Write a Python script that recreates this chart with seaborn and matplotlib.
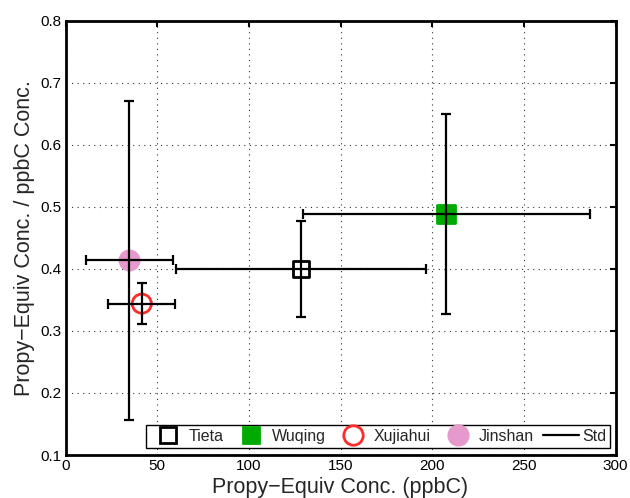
import matplotlib
matplotlib.use('Agg')
import matplotlib.pyplot as plt
from matplotlib.lines import Line2D
import seaborn as sns
import pandas as pd

SITES = ['Tieta', 'Wuqing', 'Xujiahui', 'Jinshan']
CONC = [128.5, 207.8, 41.6, 34.8]
RATIO = [0.400, 0.489, 0.344, 0.414]
CONC_STD = [68.4, 78.4, 18.3, 23.8]
RATIO_STD = [0.077, 0.161, 0.033, 0.257]

MARKERS = ['s', 's', 'o', 'o']
EDGES = ['black', '#00AA00', '#FF2B2B', '#E699CC']
FACES = ['none', '#00AA00', 'none', '#E699CC']
SIZES = [125, 150, 190, 190]

sns.set_theme(style='white')
plt.rcParams['font.family'] = ['Liberation Sans', 'DejaVu Sans']
plt.rcParams['axes.unicode_minus'] = True


def main():
    df = pd.DataFrame({'site': SITES, 'conc': CONC, 'ratio': RATIO,
                       'conc_std': CONC_STD, 'ratio_std': RATIO_STD})
    fig = plt.figure(figsize=(6.3, 4.98), dpi=100)
    ax = fig.add_axes([0.104, 0.0863, 0.873, 0.872])

    for i, row in df.iterrows():
        sns.scatterplot(x=[row.conc], y=[row.ratio], ax=ax, marker=MARKERS[i], s=SIZES[i],
                        fc=FACES[i], ec=EDGES[i], linewidth=2, zorder=3)
    ax.errorbar(df.conc, df.ratio, xerr=df.conc_std, yerr=df.ratio_std, fmt='none',
                ecolor='black', elinewidth=1.6, capsize=3.5, capthick=1.6, zorder=4)

    ax.set_xlim(0, 300)
    ax.set_ylim(0.1, 0.8)
    ax.set_xticks([0, 50, 100, 150, 200, 250, 300])
    ax.set_yticks([0.1, 0.2, 0.3, 0.4, 0.5, 0.6, 0.7, 0.8])
    ax.grid(True, linestyle=(0, (1, 4)), color='#333333', linewidth=0.8)
    for s in ax.spines.values():
        s.set_linewidth(2)
        s.set_color('black')
    ax.tick_params(direction='in', length=4, width=1.5, top=True, right=True,
                   labelsize=11, colors='black', pad=3)
    ax.set_xlabel('Propy\u2212Equiv Conc. (ppbC)', fontsize=15.5, labelpad=3)
    ax.set_ylabel('Propy\u2212Equiv Conc. / ppbC Conc.', fontsize=15.5, labelpad=4)

    handles = [Line2D([], [], linestyle='none', marker=MARKERS[i], markersize=12 if i < 2 else 14,
                      markerfacecolor=FACES[i], markeredgecolor=EDGES[i], markeredgewidth=2)
               for i in range(4)]
    handles.append(Line2D([], [], color='black', linewidth=1.6))
    leg = ax.legend(handles, SITES + ['Std'], loc='lower right', bbox_to_anchor=(0.99, 0.017),
                    ncol=5, fontsize=11.5, frameon=True, fancybox=False, borderpad=0.25,
                    handlelength=2.25, handletextpad=0.2, columnspacing=0.55, borderaxespad=0)
    leg.get_frame().set_edgecolor('black')
    leg.get_frame().set_linewidth(1)
    leg.get_frame().set_alpha(1)

    fig.savefig('out.png', dpi=100)


if __name__ == '__main__':
    main()
